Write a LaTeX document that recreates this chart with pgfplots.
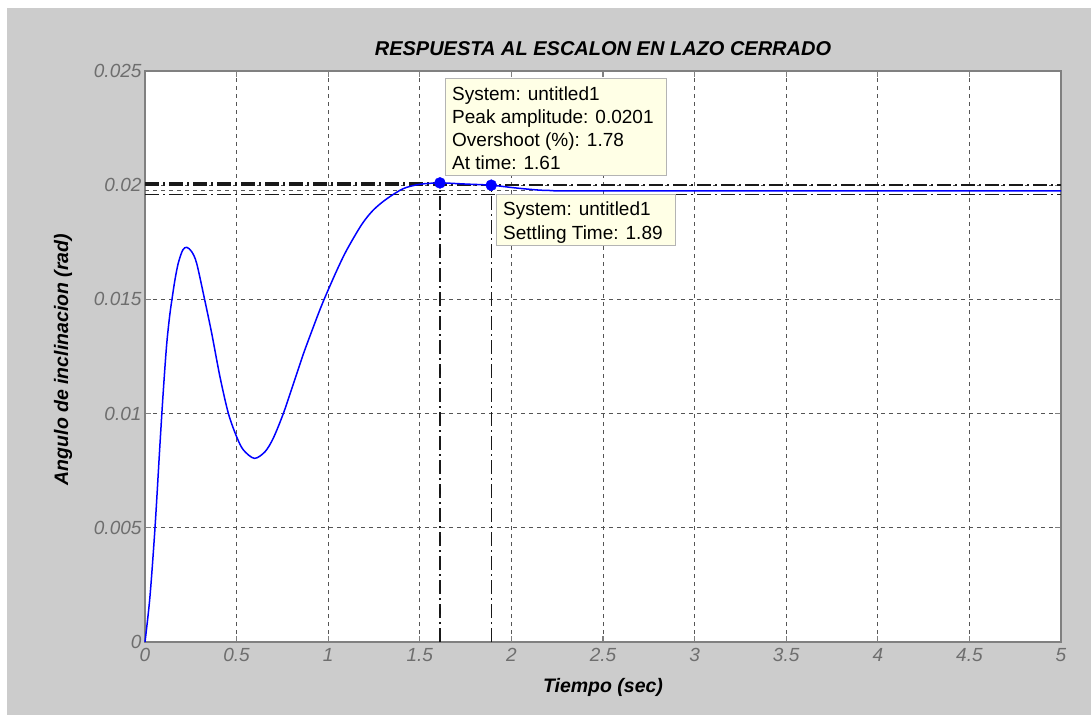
\documentclass[border=0pt]{standalone}
\usepackage{pgfplots}
\pgfplotsset{compat=1.18}
\usepackage{pgfplotstable}
\usepackage{fontspec}
\setmainfont{Liberation Sans}

\definecolor{figbg}{HTML}{CCCCCC}
\definecolor{axgray}{HTML}{808080}
\definecolor{gridgray}{HTML}{555555}
\definecolor{tipbg}{HTML}{FFFFE6}
\definecolor{tipedge}{HTML}{B4B4B4}
\definecolor{tickgray}{HTML}{6E6E6E}
\definecolor{respblue}{RGB}{0,0,255}

% closed-loop step response (time in s, angle in rad)
\pgfplotstableread{
t y
0.000 0.00000
0.027 0.00198
0.055 0.00505
0.082 0.00870
0.100 0.01100
0.118 0.01300
0.135 0.01430
0.149 0.01510
0.164 0.01588
0.182 0.01660
0.206 0.01716
0.228 0.01728
0.255 0.01709
0.282 0.01658
0.324 0.01505
0.364 0.01352
0.409 0.01162
0.455 0.01001
0.500 0.00899
0.537 0.00841
0.597 0.00804
0.655 0.00833
0.700 0.00892
0.755 0.01000
0.810 0.01130
0.864 0.01260
0.910 0.01360
0.950 0.01445
0.983 0.01510
1.046 0.01625
1.101 0.01716
1.183 0.01828
1.246 0.01891
1.319 0.01940
1.410 0.01985
1.501 0.02004
1.610 0.02010
1.750 0.02005
1.890 0.02000
2.000 0.01990
2.100 0.01982
2.200 0.01977
2.500 0.01975
5.000 0.01975
}\stepdata

\newcommand{\tipfont}{\fontsize{19}{23}\selectfont}
\tikzset{charline/.style={black!90, line width=1.4pt, dash pattern=on 14pt off 4pt on 2pt off 4pt}}

\begin{document}
\begin{tikzpicture}[x=1pt,y=1pt]
\fill[white] (0,0) rectangle (1091,715);
\fill[figbg] (7,0) rectangle (1091,707);
\begin{axis}[
  at={(145pt,73pt)}, anchor=south west,
  scale only axis, width=916pt, height=571pt,
  xmin=0, xmax=5, ymin=0, ymax=0.025,
  xtick={0,0.5,1,1.5,2,2.5,3,3.5,4,4.5,5},
  xticklabels={0,0.5,1,1.5,2,2.5,3,3.5,4,4.5,5},
  ytick={0,0.005,0.01,0.015,0.02,0.025},
  yticklabels={0,0.005,0.01,0.015,0.02,0.025},
  scaled y ticks=false,
  tick align=inside, major tick length=6pt,
  tick style={axgray, line width=1.2pt},
  axis line style={axgray, line width=1.8pt},
  grid=major,
  major grid style={gridgray, line width=1pt, dash pattern=on 4pt off 4pt},
  axis background/.style={fill=white},
  tick label style={font=\fontsize{19}{19}\selectfont\itshape, text=tickgray},
  xticklabel style={yshift=-3pt},
  /pgf/number format/assume math mode=true,
  clip=false,
]
% peak and settling reference lines
\addplot[charline] coordinates {(0,0.0201) (1.61,0.0201)};
\addplot[charline] coordinates {(1.61,0) (1.61,0.0201)};
\addplot[charline] coordinates {(0,0.0200) (5,0.0200)};
\addplot[charline] coordinates {(0,0.01958) (5,0.01958)};
\addplot[charline] coordinates {(1.89,0) (1.89,0.0200)};
\addplot[gridgray, line width=0.9pt, dash pattern=on 4pt off 4pt] coordinates {(0,0.01975) (5,0.01975)};
% response
\addplot[respblue, line width=1.5pt, smooth, tension=0.5] table[x=t, y=y] {\stepdata};
\addplot[only marks, mark=*, mark size=5.5pt, respblue] coordinates {(1.61,0.0201) (1.89,0.0200)};

\path (axis cs:0,0) coordinate (O);
% data tips
\draw[tipedge, fill=tipbg, line width=1pt] ([shift={(300pt,466pt)}]O) rectangle ([shift={(521pt,563pt)}]O);
\node[anchor=base west, inner sep=0pt, font=\tipfont] at ([shift={(307pt,541pt)}]O) {System: untitled1};
\node[anchor=base west, inner sep=0pt, font=\tipfont] at ([shift={(307pt,518pt)}]O) {Peak amplitude: 0.0201};
\node[anchor=base west, inner sep=0pt, font=\tipfont] at ([shift={(307pt,495pt)}]O) {Overshoot (\%): 1.78};
\node[anchor=base west, inner sep=0pt, font=\tipfont] at ([shift={(307pt,472pt)}]O) {At time: 1.61};

\draw[tipedge, fill=tipbg, line width=1pt] ([shift={(351pt,396pt)}]O) rectangle ([shift={(530pt,447pt)}]O);
\node[anchor=base west, inner sep=0pt, font=\tipfont] at ([shift={(358pt,426pt)}]O) {System: untitled1};
\node[anchor=base west, inner sep=0pt, font=\tipfont] at ([shift={(358pt,402pt)}]O) {Settling Time: 1.89};

% title and axis labels
\node[font=\fontsize{20}{20}\selectfont\bfseries\itshape] at ([yshift=22pt]rel axis cs:0.5,1) {RESPUESTA AL ESCALON EN LAZO CERRADO};
\node[font=\fontsize{19.5}{19.5}\selectfont\bfseries\itshape] at ([yshift=-45pt]rel axis cs:0.5,0) {Tiempo (sec)};
\node[rotate=90, font=\fontsize{19.5}{19.5}\selectfont\bfseries\itshape] at ([xshift=-82pt,yshift=-3pt]rel axis cs:0,0.5) {Angulo de inclinacion (rad)};
\end{axis}
\pgfresetboundingbox
\useasboundingbox (0,0) rectangle (1091,715);
\end{tikzpicture}
\end{document}
